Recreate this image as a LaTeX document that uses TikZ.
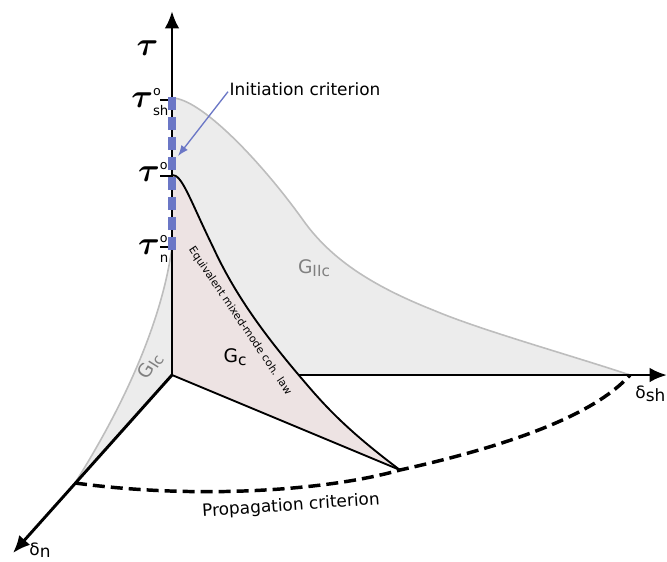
\documentclass[tikz,border=0pt]{standalone}
\usepackage{fontspec}
\setmainfont{DejaVu Sans}
\usepackage{amsmath}
\usetikzlibrary{arrows.meta}
\definecolor{surfgray}{HTML}{ECECEC}
\definecolor{edgegray}{HTML}{BDBDBD}
\definecolor{gcfill}{HTML}{EDE3E3}
\definecolor{critblue}{HTML}{6B77C6}
\newcommand{\taulab}[1]{$\boldsymbol{\tau}$\rlap{\raisebox{0.4em}{\fontsize{9.5}{9.5}\selectfont o}}\raisebox{-0.25em}{\fontsize{10}{10}\selectfont #1}}
\newcommand{\Glab}[1]{G\raisebox{-0.18em}{\fontsize{11.5}{11.5}\selectfont #1}}

\begin{document}
\begin{tikzpicture}[
  x=0.75pt, y=-0.75pt,
  every node/.style={font=\fontsize{12.7}{15}\selectfont, inner sep=1pt},
  axis/.style={line width=2.2pt, -{Latex[length=13pt,width=11pt]}},
  edge/.style={draw=edgegray, line width=1.2pt},
  law/.style={line width=1.4pt},
  prop/.style={line width=2.6pt, dash pattern=on 9pt off 4.5pt},
  initdash/.style={critblue, line width=6pt, dash pattern=on 9.75pt off 5.25pt},
  taunode/.style={font=\fontsize{24}{24}\selectfont, anchor=east},
  surflabel/.style={text=gray, font=\fontsize{14}{14}\selectfont}
]
\useasboundingbox (0,0) rectangle (667,561);

% key points
\coordinate (O) at (172,375);
\coordinate (tauTip) at (172,11);
\coordinate (shTip) at (667,375);
\coordinate (nTip) at (13,553);
\coordinate (shEnd) at (630,375);
\coordinate (nEnd) at (75,483);
\coordinate (gcEnd) at (400,470);
\coordinate (tsh) at (172,100);
\coordinate (tzero) at (172,176);
\coordinate (tn) at (172,247);

% mode II surface
\fill[surfgray] (172,98) .. controls (200,98) and (260,160) .. (303,220)
  .. controls (330,258) and (370,285) .. (433,310)
  .. controls (480,330) and (570,355) .. (shEnd) -- (O) -- cycle;
\draw[edge] (172,98) .. controls (200,98) and (260,160) .. (303,220)
  .. controls (330,258) and (370,285) .. (433,310)
  .. controls (480,330) and (570,355) .. (shEnd);

% mode I surface
\fill[surfgray] (tn) .. controls (165,300) and (140,380) .. (nEnd) -- (O) -- cycle;
\draw[edge] (tn) .. controls (165,300) and (140,380) .. (nEnd);

% shear axis
\draw[axis] (O) -- (shTip);

% mixed-mode surface
\fill[gcfill] (O) -- (172,175) .. controls (182,174) and (190,200) .. (213,247)
  .. controls (235,295) and (265,335) .. (297,373)
  .. controls (320,400) and (340,425) .. (gcEnd) -- cycle;
\draw[law] (172,175) .. controls (182,174) and (190,200) .. (213,247)
  .. controls (235,295) and (265,335) .. (297,373)
  .. controls (320,400) and (340,425) .. (gcEnd);
\draw[law] (O) -- (gcEnd);

% normal and tau axes
\draw[axis] (O) -- (nTip);
\draw[axis] (O) -- (tauTip);

% ticks
\foreach \t in {tsh, tzero, tn}
  \draw[line width=1.2pt] (\t) -- ++(-12,0);

% initiation criterion
\draw[initdash] (172,250) -- (172,96);
\node[anchor=west] (init) at (228,89) {Initiation criterion};
\coordinate (initTip) at (178,156);
\draw[critblue, line width=1pt, -{Latex[length=8pt,width=6pt]}] ([yshift=-2pt]init.west) -- (initTip);

% propagation criterion
\draw[prop] (nEnd) .. controls (200,500) and (330,490) .. (gcEnd)
  .. controls (490,450) and (590,420) .. (shEnd);
\node[rotate=4] (propLab) at (291,506) {Propagation criterion};

% labels
\node[taunode] (tauLab) at (160,48) {$\boldsymbol{\tau}$};
\node[taunode] (tshLab) at (170,102) {\taulab{sh}};
\node[taunode] (tzeroLab) at (170,176) {\taulab{\phantom{n}}};
\node[taunode] (tnLab) at (170,249) {\taulab{n}};
\node[anchor=east] (shLab) at (667,394) {δ\raisebox{-0.15em}{sh}};
\node (nLab) at (40,550) {δ\raisebox{-0.15em}{n}};
\node[surflabel] (giicLab) at (314,268) {\Glab{IIc}};
\node[surflabel, rotate=58] (gicLab) at (150,366) {\Glab{Ic}};
\node[font=\fontsize{14}{14}\selectfont] (gcLab) at (235,357) {\Glab{c}};
\node[font=\fontsize{8}{8}\selectfont, rotate=-56] (lawLab) at (240,321) {Equivalent mixed-mode coh. law};
\end{tikzpicture}
\end{document}
